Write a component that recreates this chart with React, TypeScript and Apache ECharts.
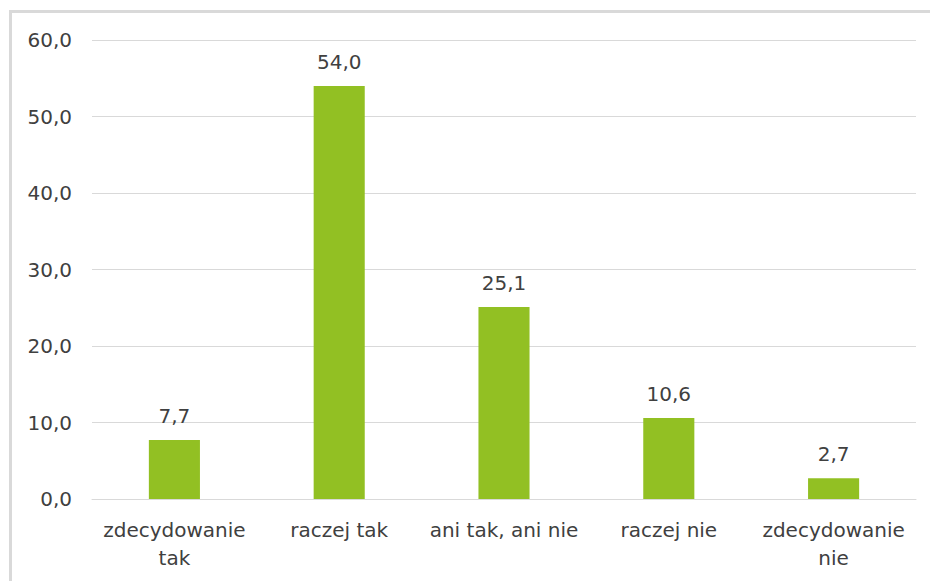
import React, { useEffect, useRef } from "react";
import * as echarts from "echarts";

const categories = ["zdecydowanie\ntak", "raczej tak", "ani tak, ani nie", "raczej nie", "zdecydowanie\nnie"];
const values = [7.7, 54.0, 25.1, 10.6, 2.7];
const yTicks = { min: 0, max: 60, interval: 10 };

const fmt = (v: number) => v.toFixed(1).replace(".", ",");

export default function App() {
  const ref = useRef<HTMLDivElement>(null);
  useEffect(() => {
    if (!ref.current) return;
    const chart = echarts.init(ref.current, null, { renderer: "svg" });
    const font = "DejaVu Sans";
    chart.setOption({
      animation: false,
      backgroundColor: "#ffffff",
      grid: { left: 92, right: 14, top: 40, bottom: 82, containLabel: false },
      graphic: [
        { type: "line", shape: { x1: 10.5, y1: 11.5, x2: 930, y2: 11.5 }, style: { stroke: "#d9d9d9", lineWidth: 3 } },
        { type: "line", shape: { x1: 10.5, y1: 10, x2: 10.5, y2: 581 }, style: { stroke: "#d9d9d9", lineWidth: 3 } },
      ],
      xAxis: {
        type: "category",
        data: categories,
        axisLine: { show: true, lineStyle: { color: "#d9d9d9", width: 1 } },
        axisTick: { show: false },
        axisLabel: {
          color: "#404040",
          fontFamily: font,
          fontSize: 20,
          lineHeight: 28,
          margin: 17,
          interval: 0,
        },
      },
      yAxis: {
        type: "value",
        min: yTicks.min,
        max: yTicks.max,
        interval: yTicks.interval,
        axisLine: { show: false },
        axisTick: { show: false },
        splitLine: { lineStyle: { color: "#d9d9d9", width: 1 } },
        axisLabel: {
          color: "#404040",
          fontFamily: font,
          fontSize: 20,
          margin: 20,
          formatter: (v: number) => fmt(v),
        },
      },
      series: [
        {
          type: "bar",
          data: values,
          barWidth: "31%",
          itemStyle: { color: "#92c023" },
          label: {
            show: true,
            position: "top",
            distance: 14,
            color: "#404040",
            fontFamily: font,
            fontSize: 20,
            formatter: (p: any) => fmt(p.value),
          },
        },
      ],
    });
    return () => chart.dispose();
  }, []);
  return (
    <div
      ref={ref}
      style={{ position: "absolute", left: 0, top: 0, width: 930, height: 581 }}
    />
  );
}
